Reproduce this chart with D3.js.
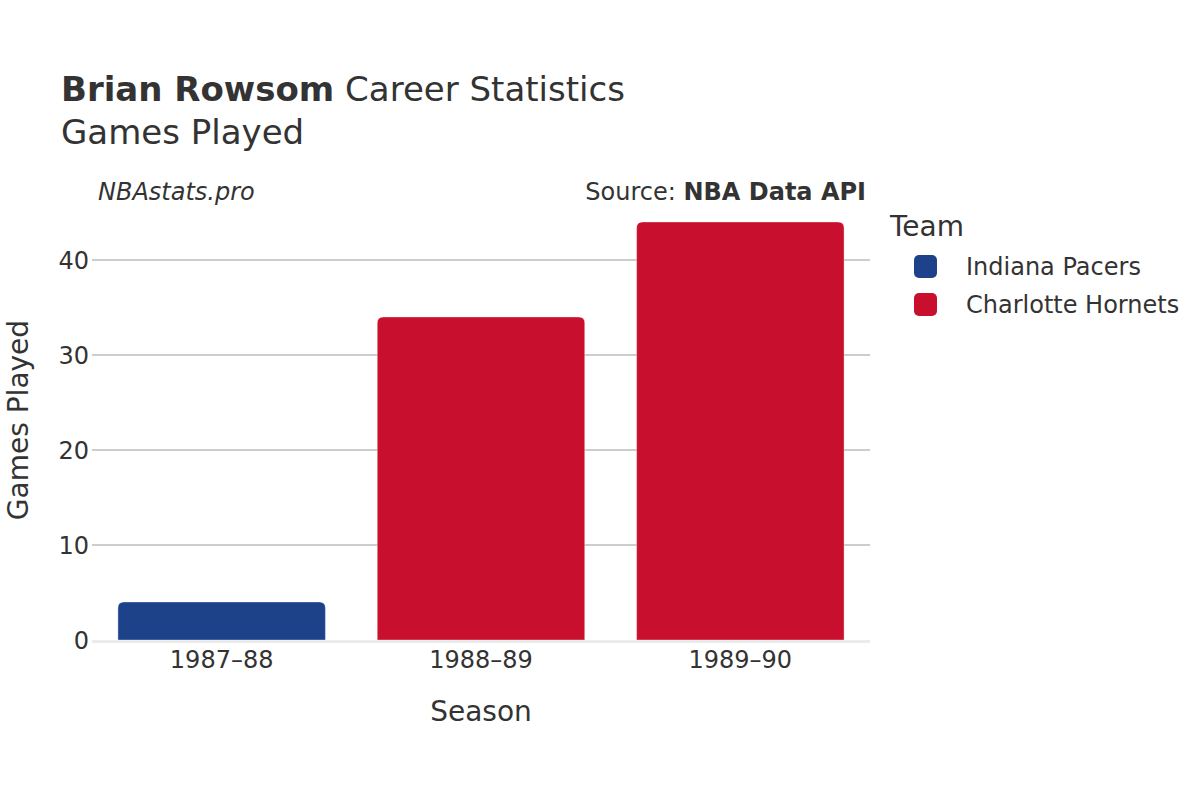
<!DOCTYPE html>
<html>
<head>
<meta charset="utf-8">
<script src="https://cdn.jsdelivr.net/npm/d3@7"></script>
<style>
  body { margin: 0; background: #fff; }
  text { font-family: "DejaVu Sans", sans-serif; fill: #333; }
</style>
</head>
<body>
<div id="chart"></div>
<script>
// chart data
const seasons = ["1987–88", "1988–89", "1989–90"];
const gamesPlayed = [4, 34, 44];
const seasonTeams = ["Indiana Pacers", "Charlotte Hornets", "Charlotte Hornets"];
const teams = ["Indiana Pacers", "Charlotte Hornets"];
const teamColors = ["#1d428a", "#c8102e"];
const yTicks = [0, 10, 20, 30, 40];

const width = 1200, height = 800;
const margin = { top: 200, right: 330, bottom: 160, left: 92 };
const plotW = width - margin.left - margin.right;
const plotH = height - margin.top - margin.bottom;

const svg = d3.select("#chart").append("svg")
    .attr("width", width)
    .attr("height", height);

const g = svg.append("g")
    .attr("transform", `translate(${margin.left}, ${margin.top})`);

const x = d3.scaleBand().domain(seasons).range([0, plotW]).paddingInner(0.2).paddingOuter(0.1);
const y = d3.scaleLinear().domain([0, 440 / 9.5]).range([plotH, 0]);
const color = d3.scaleOrdinal().domain(teams).range(teamColors);

// gridlines
g.selectAll(".grid").data(yTicks.filter(d => d > 0)).enter()
    .append("line")
    .attr("x1", 0).attr("x2", plotW)
    .attr("y1", d => y(d)).attr("y2", d => y(d))
    .attr("stroke", "#bdbdbd")
    .attr("stroke-width", 1.5);

// y tick labels
g.selectAll(".ytick").data(yTicks).enter()
    .append("text")
    .attr("x", -3)
    .attr("y", d => y(d))
    .attr("dy", "0.36em")
    .attr("text-anchor", "end")
    .style("font-size", "24px")
    .text(d => d);

// bars with rounded top corners
const r = 6;
function barPath(x0, y0, w, h) {
    const rr = Math.min(r, h, w / 2);
    return `M${x0},${y0 + h} V${y0 + rr} Q${x0},${y0} ${x0 + rr},${y0} H${x0 + w - rr} Q${x0 + w},${y0} ${x0 + w},${y0 + rr} V${y0 + h} Z`;
}
const data = seasons.map((s, i) => ({ season: s, value: gamesPlayed[i], team: seasonTeams[i] }));
g.selectAll(".bar").data(data).enter()
    .append("path")
    .attr("d", d => barPath(x(d.season), y(d.value), x.bandwidth(), y(0) - y(d.value)))
    .attr("fill", d => color(d.team))
    .attr("stroke", "rgba(255,255,255,0.35)")
    .attr("stroke-width", 1);

// zero line
g.append("line")
    .attr("x1", 0).attr("x2", plotW)
    .attr("y1", y(0) + 1.5).attr("y2", y(0) + 1.5)
    .attr("stroke", "#ebebeb")
    .attr("stroke-width", 3);

// x tick labels
g.selectAll(".xtick").data(seasons).enter()
    .append("text")
    .attr("x", d => x(d) + x.bandwidth() / 2)
    .attr("y", plotH + 28)
    .attr("text-anchor", "middle")
    .style("font-size", "24px")
    .text(d => d);

// axis titles
g.append("text")
    .attr("x", plotW / 2)
    .attr("y", plotH + 81)
    .attr("text-anchor", "middle")
    .style("font-size", "28px")
    .text("Season");

svg.append("text")
    .attr("transform", "rotate(-90)")
    .attr("x", -420)
    .attr("y", 28)
    .attr("text-anchor", "middle")
    .style("font-size", "28px")
    .text("Games Played");

// title
const title = svg.append("text")
    .attr("x", 61)
    .attr("y", 101)
    .style("font-size", "34px");
title.append("tspan").style("font-weight", "bold").text("Brian Rowsom");
title.append("tspan").text(" Career Statistics");

svg.append("text")
    .attr("x", 61)
    .attr("y", 144)
    .style("font-size", "34px")
    .text("Games Played");

// watermark and source
svg.append("text")
    .attr("x", 98)
    .attr("y", 200)
    .style("font-size", "24px")
    .style("font-style", "italic")
    .text("NBAstats.pro");

const src = svg.append("text")
    .attr("x", 866)
    .attr("y", 200)
    .attr("text-anchor", "end")
    .style("font-size", "24px");
src.append("tspan").text("Source: ");
src.append("tspan").style("font-weight", "bold").text("NBA Data API");

// legend
const legend = svg.append("g").attr("transform", "translate(890, 0)");
legend.append("text")
    .attr("x", 0)
    .attr("y", 236)
    .style("font-size", "28px")
    .text("Team");

const items = legend.selectAll(".item").data(teams).enter()
    .append("g")
    .attr("transform", (d, i) => `translate(0, ${266 + i * 38})`);
items.append("rect")
    .attr("x", 24).attr("y", -11)
    .attr("width", 23).attr("height", 23)
    .attr("rx", 5)
    .attr("fill", d => color(d));
items.append("text")
    .attr("x", 76)
    .attr("y", 0)
    .attr("dy", "0.36em")
    .style("font-size", "24px")
    .text(d => d);
</script>
</body>
</html>
